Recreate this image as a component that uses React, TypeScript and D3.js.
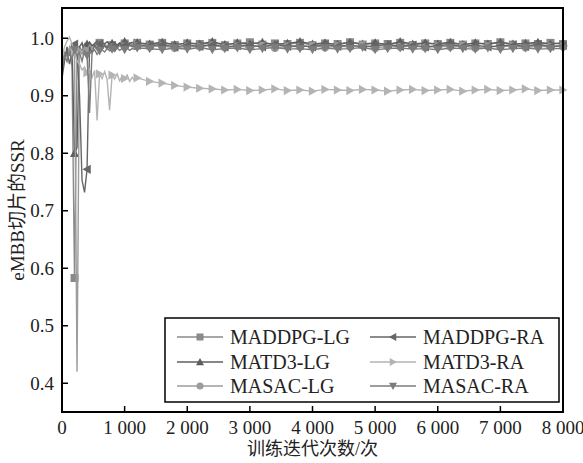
import React from "react";
import * as d3 from "d3";

const iterations = [
  0, 40, 80, 120, 160, 200, 240, 280, 320, 360, 400, 440, 480, 520, 560, 600, 640, 680, 720, 760,
  800, 840, 880, 920, 960, 1000, 1040, 1080, 1120, 1160, 1200,
  1400, 1600, 1800, 2000, 2200, 2400, 2600, 2800, 3000, 3200, 3400, 3600, 3800, 4000, 4200, 4400,
  4600, 4800, 5000, 5200, 5400, 5600, 5800, 6000, 6200, 6400, 6600, 6800, 7000, 7200, 7400, 7600,
  7800, 8000,
];

const maddpgLG = [
  0.955, 0.975, 0.968, 0.982, 0.95, 0.583, 0.96, 0.985, 0.978, 0.99, 0.982, 0.993, 0.986, 0.99, 0.984, 0.992, 0.988, 0.991, 0.985, 0.993,
  0.988, 0.99, 0.986, 0.992, 0.989, 0.991, 0.987, 0.992, 0.989, 0.99, 0.992,
  0.989, 0.992, 0.988, 0.991, 0.99, 0.992, 0.988, 0.991, 0.993, 0.989, 0.991, 0.99, 0.992, 0.988, 0.991, 0.99, 0.993,
  0.989, 0.991, 0.99, 0.992, 0.988, 0.991, 0.99, 0.992, 0.989, 0.991, 0.99, 0.993, 0.989, 0.991, 0.99, 0.992, 0.99,
];
const matd3LG = [
  0.93, 0.96, 0.985, 0.97, 0.99, 0.8, 0.81, 0.985, 0.992, 0.975, 0.99, 0.993, 0.987, 0.991, 0.995, 0.988, 0.992, 0.99, 0.994, 0.989,
  0.991, 0.993, 0.988, 0.992, 0.99, 0.994, 0.989, 0.991, 0.993, 0.99, 0.992,
  0.99, 0.993, 0.989, 0.992, 0.99, 0.994, 0.989, 0.992, 0.99, 0.993, 0.989, 0.991, 0.994, 0.99, 0.992, 0.989, 0.993,
  0.99, 0.992, 0.989, 0.994, 0.99, 0.992, 0.99, 0.993, 0.989, 0.992, 0.99, 0.993, 0.99, 0.991, 0.993, 0.99, 0.992,
];
const masacLG = [
  0.945, 0.97, 0.96, 0.985, 0.975, 0.978, 0.42, 0.98, 0.972, 0.985, 0.978, 0.988, 0.982, 0.986, 0.98, 0.987, 0.984, 0.986, 0.981, 0.988,
  0.984, 0.986, 0.982, 0.987, 0.985, 0.986, 0.983, 0.987, 0.985, 0.984, 0.986,
  0.985, 0.987, 0.983, 0.986, 0.985, 0.988, 0.984, 0.986, 0.985, 0.987, 0.983, 0.986, 0.985, 0.987, 0.984, 0.986, 0.985,
  0.988, 0.983, 0.986, 0.985, 0.987, 0.984, 0.986, 0.985, 0.987, 0.983, 0.986, 0.985, 0.987, 0.984, 0.986, 0.985, 0.986,
];
const maddpgRA = [
  0.94, 0.965, 0.98, 0.955, 0.975, 0.99, 0.97, 0.9, 0.753, 0.732, 0.772, 0.985, 0.975, 0.988, 0.982, 0.99, 0.984, 0.987, 0.983, 0.989,
  0.985, 0.988, 0.984, 0.99, 0.986, 0.988, 0.984, 0.989, 0.986, 0.987, 0.988,
  0.987, 0.989, 0.985, 0.988, 0.986, 0.989, 0.985, 0.987, 0.988, 0.985, 0.989, 0.986, 0.987, 0.985, 0.989, 0.986, 0.988,
  0.985, 0.987, 0.989, 0.986, 0.988, 0.985, 0.987, 0.989, 0.986, 0.988, 0.985, 0.987, 0.988, 0.986, 0.989, 0.986, 0.987,
];
const matd3RA = [
  0.965, 0.985, 0.995, 1.002, 0.99, 0.975, 0.96, 0.955, 0.945, 0.95, 0.94, 0.946, 0.932, 0.944, 0.857, 0.938, 0.93, 0.942, 0.928, 0.875,
  0.936, 0.929, 0.938, 0.926, 0.934, 0.93, 0.936, 0.925, 0.932, 0.927, 0.931,
  0.925, 0.922, 0.918, 0.915, 0.913, 0.912, 0.91, 0.911, 0.909, 0.91, 0.912, 0.909, 0.91, 0.908, 0.911, 0.91, 0.909,
  0.911, 0.91, 0.908, 0.91, 0.911, 0.909, 0.91, 0.911, 0.908, 0.91, 0.911, 0.909, 0.91, 0.912, 0.909, 0.91, 0.91,
];
const masacRA = [
  0.95, 0.97, 0.96, 0.975, 0.965, 0.98, 0.97, 0.975, 0.96, 0.978, 0.97, 0.87, 0.975, 0.98, 0.972, 0.978, 0.98, 0.976, 0.982, 0.978,
  0.981, 0.977, 0.983, 0.979, 0.982, 0.98, 0.983, 0.979, 0.982, 0.981, 0.983,
  0.982, 0.98, 0.983, 0.981, 0.984, 0.98, 0.982, 0.983, 0.98, 0.982, 0.984, 0.981, 0.982, 0.98, 0.983, 0.981, 0.982,
  0.984, 0.98, 0.982, 0.983, 0.981, 0.982, 0.98, 0.983, 0.982, 0.981, 0.983, 0.98, 0.982, 0.983, 0.981, 0.982, 0.982,
];

const seriesNames = ["MADDPG-LG", "MATD3-LG", "MASAC-LG", "MADDPG-RA", "MATD3-RA", "MASAC-RA"];
const seriesValues = [maddpgLG, matd3LG, masacLG, maddpgRA, matd3RA, masacRA];
const seriesColors = ["#8a8a8a", "#5e5e5e", "#9c9c9c", "#666666", "#b4b4b4", "#7c7c7c"];
const seriesMarkers = ["square", "triUp", "circle", "triLeft", "triRight", "triDown"];

const xTicks = [0, 1000, 2000, 3000, 4000, 5000, 6000, 7000, 8000];
const yTicks = [0.4, 0.5, 0.6, 0.7, 0.8, 0.9, 1.0];

const W = 583;
const H = 463;
const M = { left: 62, right: 563, top: 8, bottom: 412 };
const FONT = "'Liberation Serif', 'Times New Roman', 'Noto Sans CJK SC', serif";

function Marker({ type, x, y, color, s = 4 }: { type: string; x: number; y: number; color: string; s?: number }) {
  if (type === "square") return <rect x={x - s} y={y - s} width={2 * s} height={2 * s} fill={color} />;
  if (type === "circle") return <circle cx={x} cy={y} r={s} fill={color} />;
  let pts: number[][] = [];
  const t = s * 1.15;
  if (type === "triUp") pts = [[x, y - t], [x + t, y + t * 0.8], [x - t, y + t * 0.8]];
  if (type === "triDown") pts = [[x, y + t], [x + t, y - t * 0.8], [x - t, y - t * 0.8]];
  if (type === "triLeft") pts = [[x - t, y], [x + t * 0.8, y - t], [x + t * 0.8, y + t]];
  if (type === "triRight") pts = [[x + t, y], [x - t * 0.8, y - t], [x - t * 0.8, y + t]];
  return <polygon points={pts.map((p) => p.join(",")).join(" ")} fill={color} />;
}

export default function App() {
  const x = d3.scaleLinear().domain([0, 8000]).range([M.left, M.right]);
  const y = d3.scaleLinear().domain([0.35, 1.0526]).range([M.bottom, M.top]);
  const line = d3
    .line<[number, number]>()
    .x((d) => x(d[0]))
    .y((d) => y(d[1]));
  const fmtX = (v: number) => (v >= 1000 ? `${Math.floor(v / 1000)} ${String(v % 1000).padStart(3, "0")}` : `${v}`);

  const data = seriesValues.map((vals) =>
    vals.slice(0, iterations.length).map((v, i) => [iterations[i], v] as [number, number])
  );

  const legendX = [177, 370];
  const legendY = [337, 362, 386];

  return (
    <svg width={W} height={H} style={{ position: "absolute", left: 0, top: 0, background: "#fff" }} fontFamily={FONT}>
      <rect x={0} y={0} width={W} height={H} fill="#fff" />
      {data.map((d, si) => (
        <g key={si}>
          <path d={line(d) || ""} fill="none" stroke={seriesColors[si]} strokeWidth={1.4} />
          {d
            .filter((p) => p[0] > 0 && p[0] % 200 === 0)
            .map((p, i) => (
              <Marker key={i} type={seriesMarkers[si]} x={x(p[0])} y={y(p[1])} color={seriesColors[si]} />
            ))}
        </g>
      ))}
      <rect x={M.left} y={M.top} width={M.right - M.left} height={M.bottom - M.top} fill="none" stroke="#000" strokeWidth={2} />
      {xTicks.map((t) => (
        <g key={t}>
          <line x1={x(t)} x2={x(t)} y1={M.bottom} y2={M.bottom - 6} stroke="#000" strokeWidth={1.5} />
          <text x={x(t)} y={M.bottom + 22} textAnchor="middle" fontSize={19} fill="#222">
            {fmtX(t)}
          </text>
        </g>
      ))}
      {yTicks.map((t) => (
        <g key={t}>
          <line x1={M.left} x2={M.left + 6} y1={y(t)} y2={y(t)} stroke="#000" strokeWidth={1.5} />
          <text x={M.left - 8} y={y(t) + 6.5} textAnchor="end" fontSize={19} fill="#222">
            {t.toFixed(1)}
          </text>
        </g>
      ))}
      <text x={(M.left + M.right) / 2} y={455} textAnchor="middle" fontSize={18} fill="#222">
        训练迭代次数/次
      </text>
      <text
        transform={`translate(24, ${(M.top + M.bottom) / 2}) rotate(-90)`}
        textAnchor="middle"
        fontSize={19}
        fill="#222"
      >
        eMBB切片的SSR
      </text>
      <rect x={165} y={318} width={394} height={84} fill="#fff" stroke="#000" strokeWidth={1.5} />
      {seriesNames.map((name, i) => {
        const col = Math.floor(i / 3);
        const row = i % 3;
        const lx = legendX[col];
        const ly = legendY[row];
        return (
          <g key={name}>
            <line x1={lx} x2={lx + 46} y1={ly} y2={ly} stroke={seriesColors[i]} strokeWidth={1.5} />
            <Marker type={seriesMarkers[i]} x={lx + 23} y={ly} color={seriesColors[i]} s={3.5} />
            <text x={lx + 53} y={ly + 7} fontSize={20} fill="#222">
              {name}
            </text>
          </g>
        );
      })}
    </svg>
  );
}
